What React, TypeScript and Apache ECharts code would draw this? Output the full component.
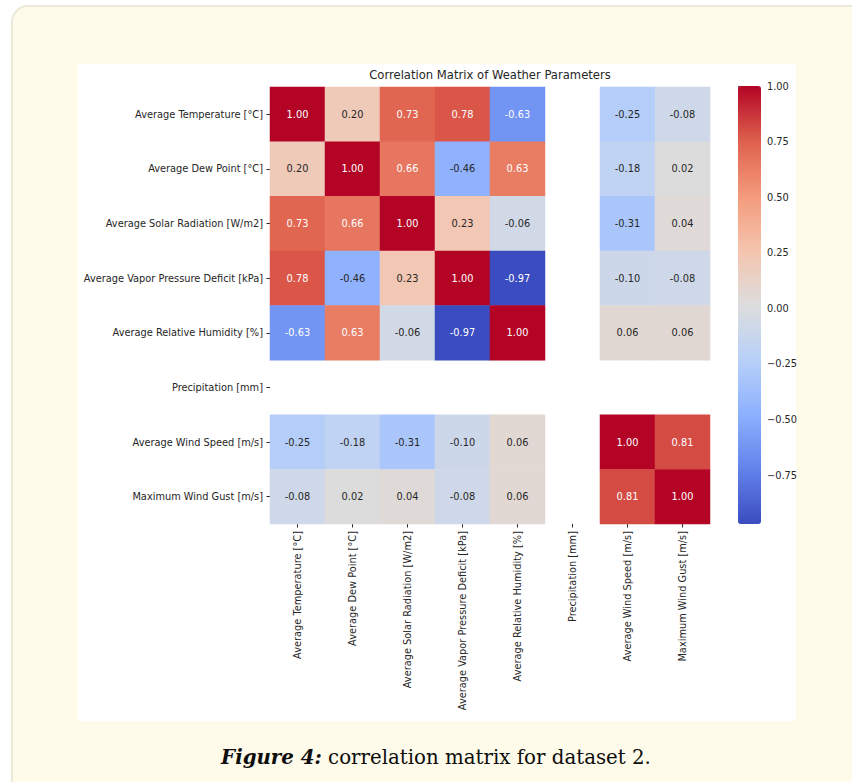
import React, { useEffect, useRef } from "react";
import * as echarts from "echarts";

const labels = [
  "Average Temperature [°C]",
  "Average Dew Point [°C]",
  "Average Solar Radiation [W/m2]",
  "Average Vapor Pressure Deficit [kPa]",
  "Average Relative Humidity [%]",
  "Precipitation [mm]",
  "Average Wind Speed [m/s]",
  "Maximum Wind Gust [m/s]",
];

// correlation rows (null = NaN, precipitation has no variance)
const rowTemp = [1.0, 0.2, 0.73, 0.78, -0.63, null, -0.25, -0.08];
const rowDew = [0.2, 1.0, 0.66, -0.46, 0.63, null, -0.18, 0.02];
const rowSolar = [0.73, 0.66, 1.0, 0.23, -0.06, null, -0.31, 0.04];
const rowVpd = [0.78, -0.46, 0.23, 1.0, -0.97, null, -0.1, -0.08];
const rowRh = [-0.63, 0.63, -0.06, -0.97, 1.0, null, 0.06, 0.06];
const rowPrecip = [null, null, null, null, null, null, null, null];
const rowWind = [-0.25, -0.18, -0.31, -0.1, 0.06, null, 1.0, 0.81];
const rowGust = [-0.08, 0.02, 0.04, -0.08, 0.06, null, 0.81, 1.0];
const matrix = [rowTemp, rowDew, rowSolar, rowVpd, rowRh, rowPrecip, rowWind, rowGust];

const vMin = -0.97;
const vMax = 1.0;
const cbarTicks = [-0.75, -0.5, -0.25, 0, 0.25, 0.5, 0.75, 1.0];

const titleText = "Correlation Matrix of Weather Parameters";
const captionBold = "Figure 4:";
const captionRest = " correlation matrix for dataset 2.";

// matplotlib "coolwarm" sampled at 9 evenly spaced points
const coolwarm: number[][] = [
  [59, 76, 192],
  [98, 130, 234],
  [141, 176, 254],
  [184, 208, 249],
  [221, 221, 221],
  [245, 196, 173],
  [244, 154, 123],
  [222, 96, 77],
  [180, 4, 38],
];
const toHex = (c: number[]) =>
  "#" + c.map((v) => Math.round(v).toString(16).padStart(2, "0")).join("");

function colorAt(v: number): number[] {
  let t = (v - vMin) / (vMax - vMin);
  t = Math.max(0, Math.min(1, t));
  const p = t * (coolwarm.length - 1);
  const i = Math.min(coolwarm.length - 2, Math.floor(p));
  const f = p - i;
  return coolwarm[i].map((a, k) => a + (coolwarm[i + 1][k] - a) * f);
}
function textColorFor(v: number): string {
  const c = colorAt(v).map((x) => {
    const s = x / 255;
    return s <= 0.03928 ? s / 12.92 : Math.pow((s + 0.055) / 1.055, 2.4);
  });
  const lum = 0.2126 * c[0] + 0.7152 * c[1] + 0.0722 * c[2];
  return lum > 0.408 ? "#262626" : "#ffffff";
}

const FONT = "DejaVu Sans";
const INK = "#262626";

export default function App() {
  const ref = useRef<HTMLDivElement>(null);
  useEffect(() => {
    document.body.style.margin = "0";
    const chart = echarts.init(ref.current!, null, { renderer: "svg" });
    const data: any[] = [];
    matrix.forEach((row, y) =>
      row.forEach((v, x) => {
        if (v === null) return;
        data.push({
          value: [x, y, v],
          label: { color: textColorFor(v) },
        });
      })
    );
    const gx = 270, gy = 87, gw = 440, gh = 437;
    chart.setOption({
      animation: false,
      backgroundColor: "#ffffff",
      graphic: [
        {
          type: "rect",
          z: -10,
          shape: { x: 12, y: 6, width: 870, height: 820, r: 16 },
          style: { fill: "#fffbea", stroke: "#ece8da", lineWidth: 2 },
        },
        {
          type: "rect",
          z: -9,
          shape: { x: 78, y: 64, width: 718, height: 657 },
          style: { fill: "#ffffff" },
        },
        {
          type: "text",
          z: 5,
          x: 436,
          y: 757,
          style: {
            text: "{b|" + captionBold + "}{r|" + captionRest + "}",
            align: "center",
            verticalAlign: "middle",
            rich: {
              b: {
                fontFamily: "DejaVu Serif",
                fontWeight: "bold",
                fontStyle: "italic",
                fontSize: 19.8,
                fill: "#0d0d0d",
              },
              r: {
                fontFamily: "DejaVu Serif",
                fontSize: 19.8,
                fill: "#0d0d0d",
              },
            },
          },
        },
      ],
      title: {
        text: titleText,
        left: gx + gw / 2,
        top: 69,
        textAlign: "center",
        padding: 0,
        textStyle: { fontFamily: FONT, fontSize: 11.6, fontWeight: "normal", color: INK },
      },
      grid: [
        { left: gx, top: gy, width: gw, height: gh },
        { left: 738, top: 86, width: 23, height: 438 },
      ],
      xAxis: [
        {
          type: "category",
          gridIndex: 0,
          data: labels,
          position: "bottom",
          axisLine: { show: false },
          splitLine: { show: false },
          axisTick: { show: true, alignWithLabel: true, length: 3.5, lineStyle: { color: INK } },
          axisLabel: { interval: 0, rotate: 90, margin: 7, fontFamily: FONT, fontSize: 9.8, color: INK },
        },
        {
          type: "value",
          gridIndex: 1,
          show: false,
          min: 0,
          max: 1,
        },
      ],
      yAxis: [
        {
          type: "category",
          gridIndex: 0,
          data: labels,
          inverse: true,
          axisLine: { show: false },
          splitLine: { show: false },
          axisTick: { show: true, alignWithLabel: true, length: 3.5, lineStyle: { color: INK } },
          axisLabel: { interval: 0, margin: 7, fontFamily: FONT, fontSize: 9.8, color: INK },
        },
        {
          type: "value",
          gridIndex: 1,
          position: "right",
          min: vMin,
          max: vMax,
          axisLine: { show: false },
          splitLine: { show: false },
          axisTick: {
            show: true,
            length: 3.5,
            customValues: cbarTicks,
            lineStyle: { color: INK },
          },
          axisLabel: {
            customValues: cbarTicks,
            margin: 6,
            fontFamily: FONT,
            fontSize: 9.8,
            color: INK,
            formatter: (v: number) => (v < 0 ? "\u2212" + Math.abs(v).toFixed(2) : v.toFixed(2)),
          },
        },
      ],
      visualMap: {
        type: "continuous",
        seriesIndex: 0,
        min: vMin,
        max: vMax,
        calculable: false,
        hoverLink: false,
        left: 738,
        top: 86,
        itemWidth: 23,
        itemHeight: 438,
        padding: 0,
        inRange: { color: coolwarm.map(toHex) },
      },
      series: [
        {
          type: "heatmap",
          xAxisIndex: 0,
          yAxisIndex: 0,
          data,
          label: {
            show: true,
            fontFamily: FONT,
            fontSize: 9.8,
            formatter: (p: any) => (p.value[2] as number).toFixed(2),
          },
          itemStyle: { borderWidth: 0 },
          emphasis: { disabled: true },
        },
        {
          type: "scatter",
          xAxisIndex: 1,
          yAxisIndex: 1,
          data: [],
        },
      ],
    });
    return () => chart.dispose();
  }, []);
  return (
    <div
      ref={ref}
      style={{ position: "absolute", left: 0, top: 0, width: 852, height: 782 }}
    />
  );
}
